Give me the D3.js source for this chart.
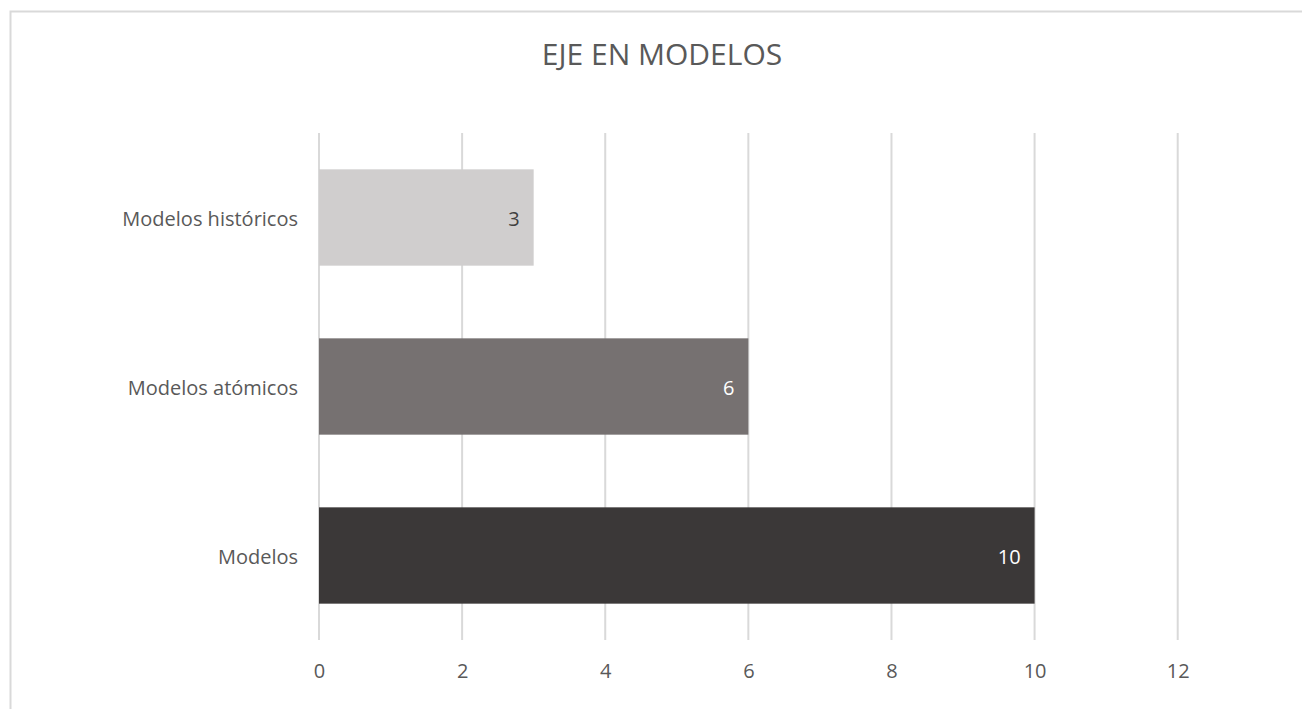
<!DOCTYPE html>
<html>
<head>
<meta charset="utf-8">
<script src="https://cdn.jsdelivr.net/npm/d3@7"></script>
<style>
  body { margin: 0; background: #fff; }
  text { font-family: "Open Sans", sans-serif; }
</style>
</head>
<body>
<svg id="chart" width="1302" height="709"></svg>
<script>
// data
var categories = ["Modelos históricos", "Modelos atómicos", "Modelos"];
var values = [3, 6, 10];
var barColors = ["#D0CECE", "#767171", "#3B3838"];
var labelColors = ["#404040", "#ffffff", "#ffffff"];
var ticks = [0, 2, 4, 6, 8, 10, 12];
var title = "EJE EN MODELOS";

var svg = d3.select("#chart");

var margin = {top: 133, left: 319, right: 124, bottom: 69};

// chart border (runs off the right and bottom edge)
svg.append("rect")
  .attr("x", 10.5)
  .attr("y", 11.5)
  .attr("width", 1400)
  .attr("height", 800)
  .attr("fill", "none")
  .attr("stroke", "#D9D9D9")
  .attr("stroke-width", 2);

var x = d3.scaleLinear()
  .domain([0, 12])
  .range([margin.left, 1177.7]);

var y = d3.scaleBand()
  .domain(categories)
  .range([margin.top, 640])
  .paddingInner(0.43)
  .paddingOuter(0.215);

// title
svg.append("text")
  .attr("x", 662)
  .attr("y", 65)
  .attr("text-anchor", "middle")
  .attr("font-size", "30px")
  .attr("fill", "#595959")
  .text(title);

// gridlines
svg.append("g")
  .selectAll("line")
  .data(ticks)
  .enter().append("line")
  .attr("x1", function(d) { return x(d); })
  .attr("x2", function(d) { return x(d); })
  .attr("y1", margin.top)
  .attr("y2", 640)
  .attr("stroke", "#D9D9D9")
  .attr("stroke-width", 2);

// x axis tick labels
var xAxis = d3.axisBottom(x)
  .tickValues(ticks)
  .tickSize(0)
  .tickPadding(0);

var gx = svg.append("g")
  .attr("transform", "translate(0,678)")
  .call(xAxis);
gx.select(".domain").remove();
gx.selectAll("text")
  .attr("dy", 0)
  .attr("font-size", "20px")
  .attr("font-family", "Open Sans, sans-serif")
  .attr("fill", "#595959");

// bars
svg.selectAll(".bar")
  .data(values)
  .enter().append("rect")
  .attr("class", "bar")
  .attr("x", x(0))
  .attr("y", function(d, i) { return y(categories[i]); })
  .attr("width", function(d) { return x(d) - x(0); })
  .attr("height", y.bandwidth())
  .attr("fill", function(d, i) { return barColors[i]; });

// data labels
svg.selectAll(".val")
  .data(values)
  .enter().append("text")
  .attr("class", "val")
  .attr("x", function(d) { return x(d) - 14; })
  .attr("y", function(d, i) { return y(categories[i]) + y.bandwidth() / 2 + 8; })
  .attr("text-anchor", "end")
  .attr("font-size", "20px")
  .attr("fill", function(d, i) { return labelColors[i]; })
  .text(function(d) { return d; });

// category labels
svg.selectAll(".cat")
  .data(categories)
  .enter().append("text")
  .attr("class", "cat")
  .attr("x", 298)
  .attr("y", function(d) { return y(d) + y.bandwidth() / 2 + 8; })
  .attr("text-anchor", "end")
  .attr("font-size", "20px")
  .attr("fill", "#595959")
  .text(function(d) { return d; });
</script>
</body>
</html>
